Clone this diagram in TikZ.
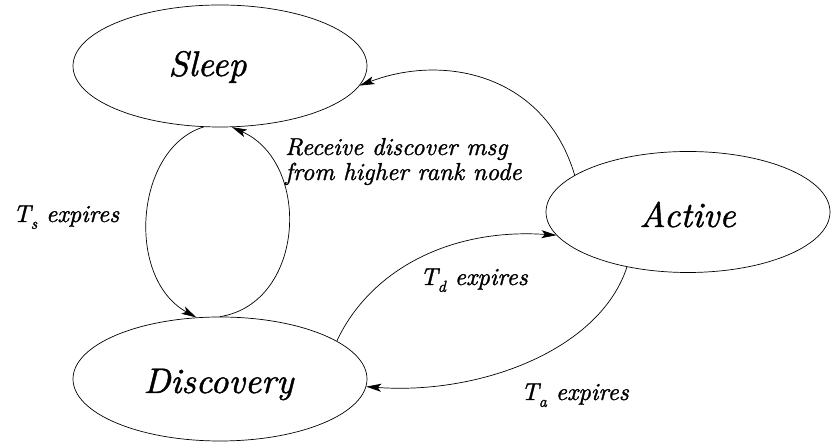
\documentclass[tikz,border=0pt]{standalone}
\usepackage{fontspec}
\setmainfont{lmroman10-regular.otf}[ItalicFont=lmroman10-italic.otf,ItalicFeatures={FakeBold=1.2}]
\usetikzlibrary{shapes.geometric,arrows.meta}
\newcommand{\lowidx}[1]{\raisebox{-0.28em}{\fontsize{16}{16}\selectfont #1}}
\begin{document}
\begin{tikzpicture}[x=1pt,y=1pt,
  state/.style={draw,ellipse,line width=0.7pt,inner sep=0pt},
  statename/.style={anchor=base,inner sep=0pt,font=\fontsize{35.5}{40}\selectfont\itshape},
  edgetext/.style={anchor=base west,inner sep=0pt,font=\fontsize{24.5}{26}\selectfont\itshape},
  trans/.style={line width=0.7pt,-{Stealth[length=15pt,width=8pt,inset=3.5pt]}}]
\useasboundingbox (0,0) rectangle (831,443);

% states
\node[state,minimum width=294pt,minimum height=122pt] (sleep) at (220,377) {};
\node[state,minimum width=294pt,minimum height=124pt] (discovery) at (220,64) {};
\node[state,minimum width=284pt,minimum height=121pt] (active) at (688,231) {};

\node[statename] (sleeptext) at (207.5,367) {Sleep};
\node[statename] (discoverytext) at (218.5,50) {Discovery};
\node[statename] (activetext) at (687.5,216) {Active};

% transitions
\draw[trans] (sleep.255) .. controls (135,295) and (125,165) .. (discovery.111);
\draw[trans] (discovery.90) .. controls (305,140) and (312,280) .. (sleep.281);
\draw[trans] (active.162) .. controls (545,368) and (445,390) .. (sleep.352);
\draw[trans] (discovery.18) .. controls (370,173) and (450,215) .. (active.190);
\draw[trans] (active.222) .. controls (600,93) and (480,48) .. (discovery.357);

% transition labels
\node[edgetext] (ts) at (13,221) {T\lowidx{s} expires};
\node[edgetext] (recv1) at (285,288) {Receive discover msg};
\node[edgetext] (recv2) at (285,263) {from higher rank node};
\node[edgetext] (td) at (420,158) {T\lowidx{d} expires};
\node[edgetext] (ta) at (521,43) {T\lowidx{a} expires};
\end{tikzpicture}
\end{document}
